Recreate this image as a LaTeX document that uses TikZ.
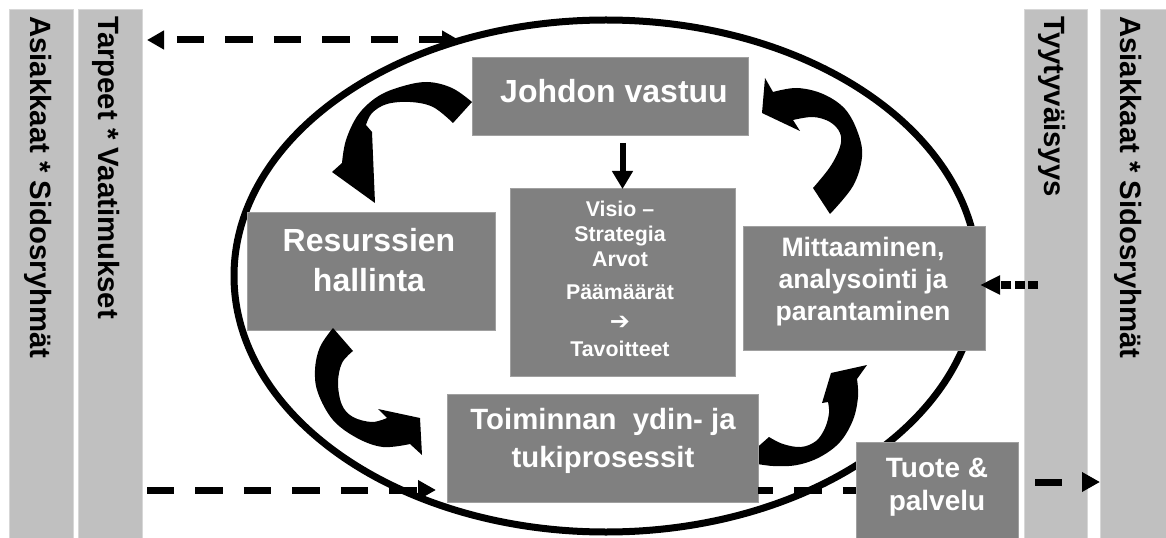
\documentclass[tikz,border=0pt]{standalone}
\usepackage{fontspec}
\setmainfont{Liberation Sans}
\newfontfamily\dejavu{DejaVu Sans}
\usetikzlibrary{arrows.meta}
\definecolor{boxgray}{RGB}{128,128,128}
\definecolor{bargray}{RGB}{192,192,192}
\definecolor{boxedge}{RGB}{160,160,160}
\definecolor{baredge}{RGB}{215,215,215}
\begin{document}
\begin{tikzpicture}[x=0.75pt,y=-0.75pt,
  bar/.style={fill=bargray, draw=baredge, line width=0.75pt, anchor=north west,
    inner sep=0pt, outer sep=0pt, minimum height=401.25pt},
  box/.style={fill=boxgray, draw=boxedge, line width=0.75pt, inner sep=0pt, outer sep=0pt},
  bartext/.style={rotate=-90, anchor=base west, inner sep=0pt,
    font=\fontsize{22}{26}\selectfont\bfseries},
  boxtext/.style={text=white, align=center, inner sep=0pt},
  ring/.style={line width=5.25pt},
  flow/.style={line width=5.25pt, dash pattern=on 20.6pt off 15.75pt},
  tiphead/.style={-{Triangle[length=13.5pt,width=14pt]}},
  cyclearrow/.style={fill=black},
]
\useasboundingbox (0,0) rectangle (1166,538);

% side bars
\node[bar, minimum width=48pt] (barA) at (9,10) {};
\node[bar, minimum width=48pt] (barB) at (78,10) {};
\node[bar, minimum width=47.25pt] (barC) at (1024,10) {};
\node[bar, minimum width=50pt] (barD) at (1100,10) {};
\node[bartext] (tA) at (31,16) {Asiakkaat * Sidosryhmät};
\node[bartext] (tB) at (98,16) {Tarpeet * Vaatimukset};
\node[bartext] (tC) at (1044,16) {Tyytyväisyys};
\node[bartext] (tD) at (1120,16) {Asiakkaat * Sidosryhmät};

% the process ring
\draw[ring] (606,276) ellipse [x radius=279pt, y radius=192pt];

% dashed flows
\coordinate (topL) at (147,40);
\coordinate (topR) at (459,40);
\draw[flow, dash phase=25.9pt, {Triangle[length=12.75pt,width=13.5pt]}-{Triangle[length=12.75pt,width=13.5pt]}] (topL) -- (topR);
\coordinate (botL) at (147,490);
\coordinate (botM) at (436,490);
\draw[flow, tiphead] (botL) -- (botM);

% boxes
\node[box, minimum width=207pt, minimum height=58.5pt] (johdon) at (610,97) {};
\node[box, minimum width=186pt, minimum height=87.75pt] (resurs) at (371,271.5) {};
\node[box, minimum width=168.75pt, minimum height=140.25pt] (visio) at (622.5,282.5) {};
\node[box, minimum width=181.5pt, minimum height=92.25pt] (mittaus) at (864,288.5) {};

% curved arrows between the management steps
\fill[cyclearrow] (472,102) -- (453,123)
  -- plot[smooth, tension=0.6] coordinates {(453,123) (433,107) (410,102) (387,104) (372,113) (366,125)}
  -- (372,132) -- (375,203) -- (332,172) -- (342,163)
  -- plot[smooth, tension=0.6] coordinates {(342,163) (346,140) (358,115) (377,97) (400,87) (427,82) (452,88) (472,102)}
  -- cycle;
\fill[cyclearrow] (813,188)
  -- plot[smooth, tension=0.6] coordinates {(813,188) (830,167) (840,147) (840,133) (830,122) (813,117) (793,120)}
  -- (800,131) -- (762,113) -- (765,78) -- (773,92)
  -- plot[smooth, tension=0.6] coordinates {(773,92) (797,88) (823,94) (845,109) (858,133) (862,157) (853,186) (830,214)}
  -- cycle;
\fill[cyclearrow] (333,328)
  -- plot[smooth, tension=0.6] coordinates {(333,328) (320,347) (315,370) (318,393) (333,420) (357,438) (383,447) (410,444)}
  -- (422,455) -- (420,418) -- (378,409) -- (387,418)
  -- plot[smooth, tension=0.6] coordinates {(387,418) (372,422) (353,417) (342,405) (338,383) (342,363) (353,351)}
  -- cycle;
\fill[cyclearrow] (769,437)
  -- plot[smooth, tension=0.6] coordinates {(769,437) (783,444) (801,447) (816,441) (825,428) (829,413) (828,402)}
  -- (822,403) -- (831,373) -- (867,365) -- (857,379)
  -- plot[smooth, tension=0.6] coordinates {(857,379) (858,397) (853,420) (840,442) (820,457) (797,465) (773,466) (752,463)}
  -- (752,452) -- cycle;

\node[box, minimum width=233.25pt, minimum height=81pt] (toiminta) at (602.5,448) {};
\draw[flow, dash phase=9pt] (toiminta.east |- botL) -- (856,490);
\node[box, minimum width=121.5pt, minimum height=73.5pt] (tuote) at (937,491) {};

% box texts
\node[boxtext, font=\fontsize{24}{28.8}\selectfont\bfseries] (johdonT) at (614,91.5) {Johdon vastuu};
\node[boxtext, font=\fontsize{24}{30}\selectfont\bfseries] (resursT) at (369,260.3) {Resurssien\\hallinta};
\node[boxtext, font=\fontsize{16}{18.75}\selectfont\bfseries] (visioT) at (620,279.2)
  {Visio –\\Strategia\\Arvot\\[6pt]Päämäärät\\[3.75pt]{\dejavu\fontsize{18}{18.75}\selectfont ➔}\\[1.5pt]Tavoitteet};
\node[boxtext, font=\fontsize{20}{24}\selectfont\bfseries] (mittausT) at (863,282) {Mittaaminen,\\analysointi ja\\parantaminen};
\node[boxtext, font=\fontsize{22}{28.5}\selectfont\bfseries] (toimintaT) at (603,441.4) {Toiminnan~ ydin- ja\\tukiprosessit};
\node[boxtext, font=\fontsize{21}{24.75}\selectfont\bfseries] (tuoteT) at (937,487.3) {Tuote \&\\palvelu};

% downward link from management to the strategy box
\draw[line width=4.5pt, -{Triangle[length=13.5pt,width=15pt]}]
  ([yshift=-5.25pt]visio.north |- johdon.south) -- (visio.north);

% feedback from satisfaction
\coordinate (dotS) at (1038,285);
\draw[line width=6pt, dash pattern=on 7.5pt off 2.5pt, -{Triangle[length=15pt,width=13.5pt]}]
  (dotS) -- ([xshift=-3.75pt]mittaus.east |- dotS);

% product out to the customers
\coordinate (outE) at (1100,482);
\draw[flow, dash phase=23.6pt, tiphead] (tuote.east |- outE) -- (outE);
\end{tikzpicture}
\end{document}
